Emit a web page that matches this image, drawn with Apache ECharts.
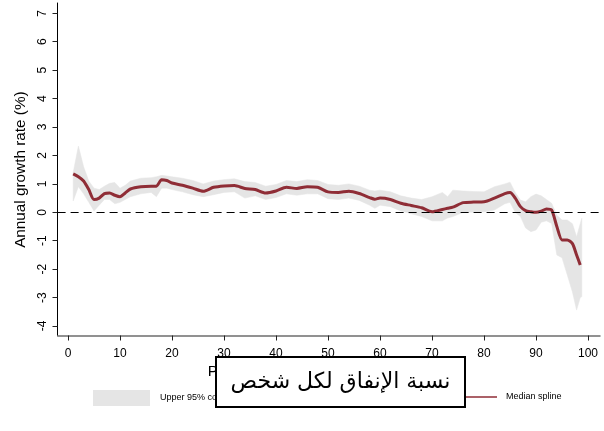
<!DOCTYPE html>
<html>
<head>
<meta charset="utf-8">
<script src="https://cdn.jsdelivr.net/npm/echarts@6/dist/echarts.min.js"></script>
<style>
  html, body { margin: 0; padding: 0; background: #fff; }
  #chart { width: 604px; height: 431px; }
</style>
</head>
<body>
<div id="chart"></div>
<script>
// Percentile of per capita expenditure (x) for each estimate
const pctl = [1, 2, 3, 4, 5, 6, 7, 8, 9, 10, 11, 12, 14, 16, 17, 18, 19, 20, 22, 24, 26, 28, 30, 32, 34, 36, 38, 40, 42, 44, 46, 48, 50, 52, 54, 56, 58, 59, 60, 62, 64, 66, 68, 70, 72, 73, 74, 76, 78, 80, 82, 84, 85, 86, 87, 88, 89, 90, 91, 92, 93, 94, 95, 96, 97, 97.8, 98.5, 98.8];
// Median spline of annual growth rate (%)
const medianVals = [1.35, 1.25, 1.10, 0.80, 0.45, 0.50, 0.66, 0.68, 0.60, 0.55, 0.68, 0.82, 0.90, 0.92, 0.92, 1.15, 1.12, 1.03, 0.95, 0.85, 0.74, 0.88, 0.93, 0.94, 0.84, 0.80, 0.68, 0.75, 0.88, 0.84, 0.90, 0.88, 0.72, 0.70, 0.74, 0.66, 0.52, 0.46, 0.50, 0.45, 0.32, 0.24, 0.16, 0.02, 0.10, 0.14, 0.18, 0.34, 0.36, 0.37, 0.50, 0.66, 0.70, 0.50, 0.20, 0.06, 0.02, 0.00, 0.04, 0.12, 0.08, -0.50, -0.97, -0.97, -1.10, -1.50, -1.85, null];
// Lower and upper 95% confidence bounds
const lowerVals = [0.40, 0.90, 0.65, 0.35, 0.05, 0.25, 0.45, 0.45, 0.30, 0.35, 0.45, 0.55, 0.65, 0.70, 0.55, 0.85, 0.85, 0.80, 0.72, 0.62, 0.55, 0.62, 0.70, 0.72, 0.50, 0.58, 0.45, 0.52, 0.65, 0.60, 0.65, 0.65, 0.48, 0.45, 0.50, 0.42, 0.25, 0.14, 0.25, 0.20, 0.05, -0.05, -0.15, -0.30, -0.30, -0.20, -0.15, 0.00, 0.00, 0.02, 0.08, 0.30, 0.35, 0.00, -0.15, -0.55, -0.68, -0.62, -0.35, -0.30, -0.39, -1.50, -1.60, -2.20, -2.80, -3.44, -3.00, -2.97];
const upperVals = [1.40, 2.33, 1.60, 1.10, 0.85, 0.80, 0.92, 1.02, 1.05, 0.85, 0.95, 1.10, 1.20, 1.22, 1.25, 1.30, 1.28, 1.25, 1.20, 1.12, 1.00, 1.10, 1.15, 1.18, 1.08, 1.05, 0.92, 0.98, 1.12, 1.08, 1.15, 1.12, 0.98, 0.95, 1.00, 0.92, 0.78, 0.75, 0.78, 0.72, 0.58, 0.50, 0.45, 0.55, 0.70, 0.55, 0.78, 0.75, 0.73, 0.72, 0.90, 1.00, 1.06, 0.70, 0.43, 0.37, 0.55, 0.64, 0.58, 0.45, 0.32, -0.10, -0.27, -0.27, -0.40, -0.86, -0.40, -0.21];

const xTickValues = [0, 10, 20, 30, 40, 50, 60, 70, 80, 90, 100];
const yTickValues = [-4, -3, -2, -1, 0, 1, 2, 3, 4, 5, 6, 7];

const xAxisTitle = 'Percentile of per capita expenditure';
const yAxisTitle = 'Annual growth rate (%)';
const bandLabel = 'Upper 95% confidence interval';
const medianLabel = 'Median spline';
const overlayText = 'نسبة الإنفاق لكل شخص';

const FONT = '"Liberation Sans", Arial, Helvetica, sans-serif';
const BAND = '#e5e5e5';
const MEDIAN = '#8f2d36';

const chart = echarts.init(document.getElementById('chart'), null, { renderer: 'canvas' });

// confidence band as one polygon: upper bound left→right, lower bound right→left
function renderBand(params, api) {
  if (params.dataIndex !== 0) return null;
  const top = pctl.map((x, i) => api.coord([x, upperVals[i]]));
  const bottom = pctl.map((x, i) => api.coord([x, lowerVals[i]])).reverse();
  return {
    type: 'polygon',
    shape: { points: top.concat(bottom) },
    style: { fill: BAND, stroke: BAND, lineWidth: 0.5 }
  };
}

chart.setOption({
  animation: false,
  backgroundColor: '#fff',
  textStyle: { fontFamily: FONT },
  grid: [
    // tick / label frame (0..100, -4..7)
    { left: 68, right: 16, top: 13.3, bottom: 105, containLabel: false },
    // full plot region, carries the data and the axis lines
    { left: 57.6, right: 4, top: 3, bottom: 95.5, containLabel: false }
  ],
  xAxis: [
    {
      gridIndex: 0, type: 'value',
      min: xTickValues[0], max: xTickValues[xTickValues.length - 1], interval: 10,
      position: 'bottom', offset: 9.5,
      axisLine: { show: false, onZero: false },
      axisTick: { show: true, length: 5, lineStyle: { color: '#222', width: 1 } },
      axisLabel: { color: '#000', fontSize: 12, margin: 12, fontFamily: FONT },
      splitLine: { show: false },
      name: xAxisTitle, nameLocation: 'middle', nameGap: 28,
      nameTextStyle: { color: '#000', fontSize: 15.3, fontFamily: FONT }
    },
    {
      gridIndex: 1, type: 'value', min: -2, max: 102.3, position: 'bottom',
      axisLine: { show: true, onZero: false, lineStyle: { color: '#6e6e6e', width: 1.5 } },
      axisTick: { show: false }, axisLabel: { show: false }, splitLine: { show: false }
    }
  ],
  yAxis: [
    {
      gridIndex: 0, type: 'value',
      min: yTickValues[0], max: yTickValues[yTickValues.length - 1], interval: 1,
      position: 'left', offset: 10.5,
      axisLine: { show: false, onZero: false },
      axisTick: { show: true, length: 5, lineStyle: { color: '#222', width: 1 } },
      axisLabel: { color: '#000', fontSize: 12, margin: 9, rotate: 90, fontFamily: FONT },
      splitLine: { show: false },
      name: yAxisTitle, nameLocation: 'middle', nameGap: 29.5,
      nameTextStyle: { color: '#000', fontSize: 15.3, fontFamily: FONT }
    },
    {
      gridIndex: 1, type: 'value', min: -4.333, max: 7.363, position: 'left',
      axisLine: { show: true, onZero: false, lineStyle: { color: '#000', width: 1 } },
      axisTick: { show: false }, axisLabel: { show: false }, splitLine: { show: false }
    }
  ],
  legend: [
    {
      left: 93, top: 390, padding: 0, itemWidth: 57, itemHeight: 16, itemGap: 0,
      data: [{ name: bandLabel, icon: 'rect', itemStyle: { color: BAND } }],
      textStyle: { color: '#000', fontSize: 9, fontFamily: FONT, padding: [0, 0, 0, 5] },
      selectedMode: false
    },
    {
      left: 465, top: 392.5, padding: 0, itemWidth: 32, itemHeight: 1.5, itemGap: 0,
      data: [{ name: medianLabel, icon: 'rect', itemStyle: { color: MEDIAN } }],
      textStyle: { color: '#000', fontSize: 9, fontFamily: FONT, padding: [0, 0, 0, 4] },
      selectedMode: false
    }
  ],
  series: [
    {
      name: bandLabel, type: 'custom', xAxisIndex: 1, yAxisIndex: 1,
      renderItem: renderBand,
      data: pctl.map((x, i) => [x, lowerVals[i], upperVals[i]]),
      encode: { x: 0, y: [1, 2] },
      itemStyle: { color: BAND }, color: BAND,
      z: 1, silent: true
    },
    {
      name: medianLabel, type: 'line', xAxisIndex: 1, yAxisIndex: 1,
      data: pctl.map((x, i) => [x, medianVals[i]]),
      symbol: 'none', smooth: 0.25, connectNulls: false,
      color: MEDIAN,
      lineStyle: { color: MEDIAN, width: 3 }, z: 3,
      markLine: {
        silent: true, symbol: 'none', label: { show: false },
        lineStyle: { color: '#000', width: 1.2, type: [8, 5] },
        data: [{ yAxis: 0 }]
      }
    }
  ],
  graphic: [
    {
      type: 'group', zlevel: 1,
      children: [
        {
          type: 'rect', z: 100,
          shape: { x: 216, y: 357, width: 249, height: 50 },
          style: { fill: '#fff', stroke: '#000', lineWidth: 2 }
        },
        {
          type: 'text', z: 101,
          style: {
            text: overlayText, fill: '#000', fontSize: 22,
            fontFamily: '"DejaVu Sans", "Noto Sans", sans-serif',
            x: 340.5, y: 382, align: 'center', verticalAlign: 'middle'
          }
        }
      ]
    }
  ]
});
</script>
</body>
</html>
